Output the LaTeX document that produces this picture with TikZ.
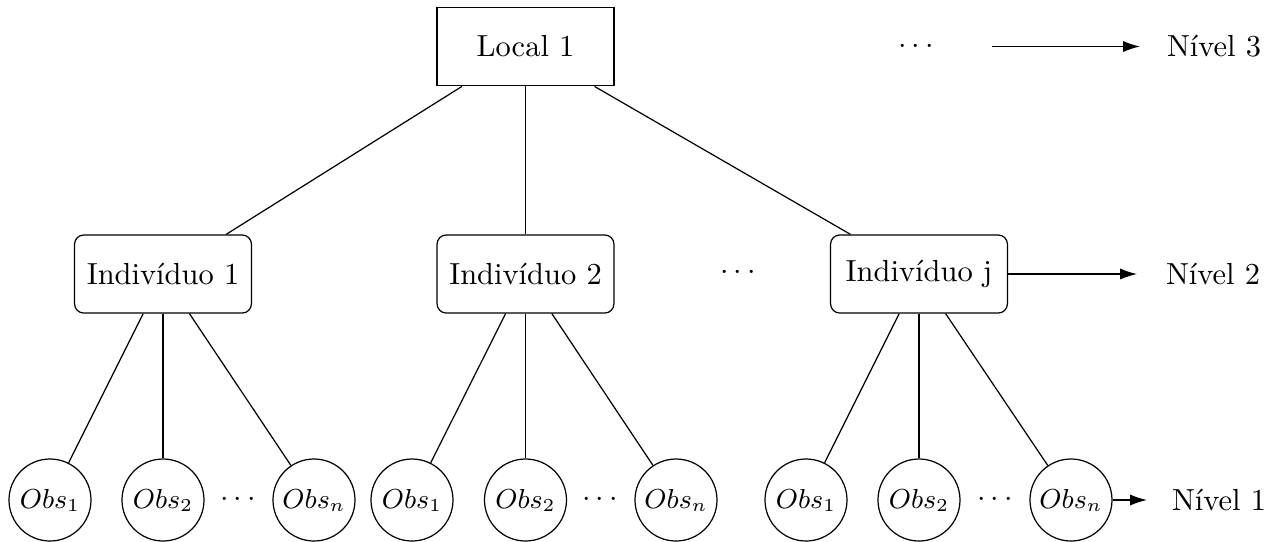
\documentclass[tikz,border=0pt]{standalone}
\usepackage{fontspec}
\usetikzlibrary{arrows.meta}
\begin{document}
\begin{tikzpicture}[x=0.328pt,y=-0.328pt,
  topbox/.style={draw, minimum width=58pt, minimum height=25.8pt, inner sep=3pt},
  indbox/.style={draw, rounded corners=3pt, minimum width=58pt, minimum height=25.6pt, inner sep=3pt},
  obs/.style={draw, circle, minimum size=26.9pt, inner sep=0.5pt, font=\small},
  lvl/.style={-{Latex[length=5.5pt,width=3.6pt]}},
  txt/.style={inner sep=0pt}]
\useasboundingbox (0,0) rectangle (1283,541);
% level 3
\node[topbox] (local) at (525.5,46.5) {Local 1};
\node[txt] (dtop) at (916,46.5) {$\cdots$};
\coordinate (a3s) at (992,46.5);
\coordinate (a3e) at (1140,46.5);
\node[txt] (n3) at (1214,46.5) {Nível 3};
\draw[lvl] (a3s) -- (a3e);
% level 2
\node[indbox] (ind1) at (163,274) {Indivíduo 1};
\node[indbox] (ind2) at (525.5,274) {Indivíduo 2};
\node[indbox] (indj) at (919,274) {Indivíduo j};
\node[txt] (dmid) at (738,273) {$\cdots$};
\coordinate (a2e) at (1137,274);
\node[txt] (n2) at (1213,274) {Nível 2};
\draw[lvl] (indj.east) -- (a2e);
\draw (local) -- (ind1);
\draw (local) -- (ind2);
\draw (local) -- (indj);
% level 1
\node[obs] (o11) at (50,500) {$Obs_1$};
\node[obs] (o12) at (163,500) {$Obs_2$};
\node[txt] (d1) at (238,500) {$\cdots$};
\node[obs] (o1n) at (314,500) {$Obs_n$};
\node[obs] (o21) at (412,500) {$Obs_1$};
\node[obs] (o22) at (525.5,500) {$Obs_2$};
\node[txt] (d2) at (600,500) {$\cdots$};
\node[obs] (o2n) at (676,500) {$Obs_n$};
\node[obs] (o31) at (806,500) {$Obs_1$};
\node[obs] (o32) at (919,500) {$Obs_2$};
\node[txt] (d3) at (995,500) {$\cdots$};
\node[obs] (o3n) at (1071,500) {$Obs_n$};
\coordinate (a1e) at (1147,500);
\node[txt] (n1) at (1219,500) {Nível 1};
\draw[lvl] (o3n.east) -- (a1e);
\foreach \o in {o11,o12,o1n} \draw (ind1) -- (\o);
\foreach \o in {o21,o22,o2n} \draw (ind2) -- (\o);
\foreach \o in {o31,o32,o3n} \draw (indj) -- (\o);
\end{tikzpicture}
\end{document}
